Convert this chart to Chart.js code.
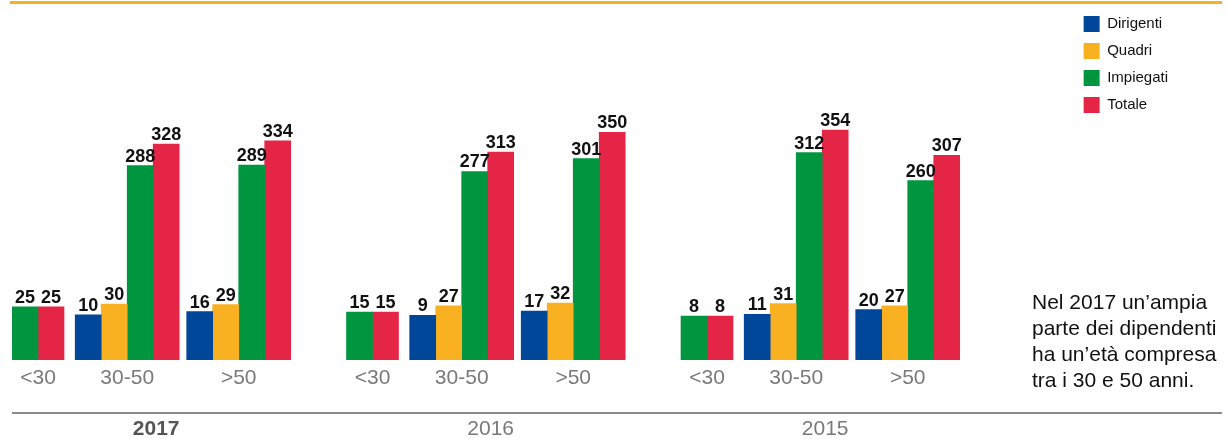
<!DOCTYPE html>
<html lang="it">
<head>
    <meta charset="UTF-8">
    <title>Dipendenti per fascia d'età</title>
    <script src="https://cdn.jsdelivr.net/npm/chart.js"></script>
    <style>
        body {
            margin: 0;
            background: #fff;
            font-family: "Liberation Sans", Arial, sans-serif;
        }

        .chart-wrap {
            position: relative;
            width: 1228px;
            height: 439px;
        }

        /* Nota a destra del grafico */
        .note {
            position: absolute;
            left: 1032px;
            top: 289px;
            font-size: 21px;
            line-height: 26px;
            color: #111;
        }
    </style>
</head>
<body>

    <div class="chart-wrap">
        <canvas id="graphEta"></canvas>
        <div class="note">Nel 2017 un’ampia<br>parte dei dipendenti<br>ha un’età compresa<br>tra i 30 e 50 anni.</div>
    </div>

    <script>
        // Dati: per ogni anno le fasce <30, 30-50, >50 (null = nessuna barra)
        const anni = ['2017', '2016', '2015'];
        const fasceEta = ['<30', '30-50', '>50'];
        const dirigenti = [null, 10, 16, null, 9, 17, null, 11, 20];
        const quadri = [null, 30, 29, null, 27, 32, null, 31, 27];
        const impiegati = [25, 288, 289, 15, 277, 301, 8, 312, 260];
        const totale = [25, 328, 334, 15, 313, 350, 8, 354, 307];

        // Impaginazione sull'asse x, in "slot"
        const slotFascia = [0, 4, 9];
        const slotAnno = 15;
        const slotEtichettaAnno = 5.3;
        const pxPerSlot = 22.3;
        const xMin = -1.166;
        // le barre partono da una base nascosta sotto lo zero (come nell'originale)
        const yMin = -74;
        const yMax = 587;

        const posizioni = anni.flatMap((a, i) => slotFascia.map(s => i * slotAnno + s));
        const posizioniAnni = anni.map((a, i) => i * slotAnno + slotEtichettaAnno);

        Chart.defaults.font.family = '"Liberation Sans", Arial, sans-serif';

        function fissaScala(scale) {
            scale.max = xMin + scale.width / pxPerSlot;
        }

        // Valori sopra le barre
        const etichetteValori = {
            id: 'etichetteValori',
            afterDatasetsDraw(chart) {
                const ctx = chart.ctx;
                ctx.save();
                ctx.font = 'bold 18px "Liberation Sans", Arial, sans-serif';
                ctx.fillStyle = '#111';
                ctx.textAlign = 'center';
                ctx.textBaseline = 'alphabetic';
                chart.data.datasets.forEach((ds, i) => {
                    chart.getDatasetMeta(i).data.forEach((bar, j) => {
                        const v = ds.data[j];
                        if (v === null) return;
                        ctx.fillText(v, bar.x, bar.y - 4);
                    });
                });
                ctx.restore();
            }
        };

        // Linea arancione in alto e linea grigia sopra gli anni
        const decorazioni = {
            id: 'decorazioni',
            afterDraw(chart) {
                const ctx = chart.ctx;
                const asseAnni = chart.scales.x2;
                ctx.save();
                ctx.fillStyle = '#F9B122';
                ctx.fillRect(10, 1, chart.width - 16, 3);
                ctx.fillStyle = '#8a8a8a';
                ctx.fillRect(12, asseAnni.top, chart.width - 18, 2);
                ctx.restore();
            }
        };

        const ctx1 = document.getElementById('graphEta').getContext('2d');
        const graphEta = new Chart(ctx1, {
            type: 'bar',
            data: {
                labels: posizioni,
                datasets: [
                    { label: 'Dirigenti', data: dirigenti, backgroundColor: '#00479A' },
                    { label: 'Quadri', data: quadri, backgroundColor: '#F9B122' },
                    { label: 'Impiegati', data: impiegati, backgroundColor: '#00963F' },
                    { label: 'Totale', data: totale, backgroundColor: '#E52546' }
                ]
            },
            options: {
                responsive: true,
                maintainAspectRatio: false,
                animation: false,
                layout: {
                    padding: { top: 5, left: 12, right: 50, bottom: 0 }
                },
                datasets: {
                    bar: {
                        barThickness: 26,
                        skipNull: true,
                        base: yMin,
                        borderWidth: 0
                    }
                },
                scales: {
                    x: {
                        type: 'linear',
                        position: 'bottom',
                        weight: 0,
                        min: xMin,
                        bounds: 'data',
                        offset: false,
                        afterDataLimits: fissaScala,
                        afterBuildTicks: s => { s.ticks = posizioni.map(v => ({ value: v })); },
                        afterFit: s => { s.height = 52; },
                        grid: { display: false, drawTicks: false },
                        border: { display: false },
                        ticks: {
                            autoSkip: false,
                            maxRotation: 0,
                            padding: 6,
                            color: '#7a7a7a',
                            font: { size: 21 },
                            callback: (v, i) => fasceEta[i % fasceEta.length]
                        }
                    },
                    x2: {
                        type: 'linear',
                        position: 'bottom',
                        weight: 1,
                        min: xMin,
                        bounds: 'data',
                        offset: false,
                        afterDataLimits: fissaScala,
                        afterBuildTicks: s => { s.ticks = posizioniAnni.map(v => ({ value: v })); },
                        afterFit: s => { s.height = 27; },
                        grid: { display: false, drawTicks: false },
                        border: { display: false },
                        ticks: {
                            autoSkip: false,
                            maxRotation: 0,
                            padding: 5,
                            color: c => c.index === 0 ? '#555' : '#7a7a7a',
                            font: c => ({ size: 21, weight: c.index === 0 ? 'bold' : 'normal' }),
                            callback: (v, i) => anni[i]
                        }
                    },
                    y: {
                        display: false,
                        min: yMin,
                        max: yMax
                    }
                },
                plugins: {
                    legend: {
                        position: 'right',
                        align: 'start',
                        labels: {
                            boxWidth: 16,
                            boxHeight: 16,
                            padding: 11,
                            color: '#111',
                            font: { size: 15 }
                        }
                    },
                    tooltip: { enabled: false }
                }
            },
            plugins: [etichetteValori, decorazioni]
        });
    </script>

</body>
</html>
